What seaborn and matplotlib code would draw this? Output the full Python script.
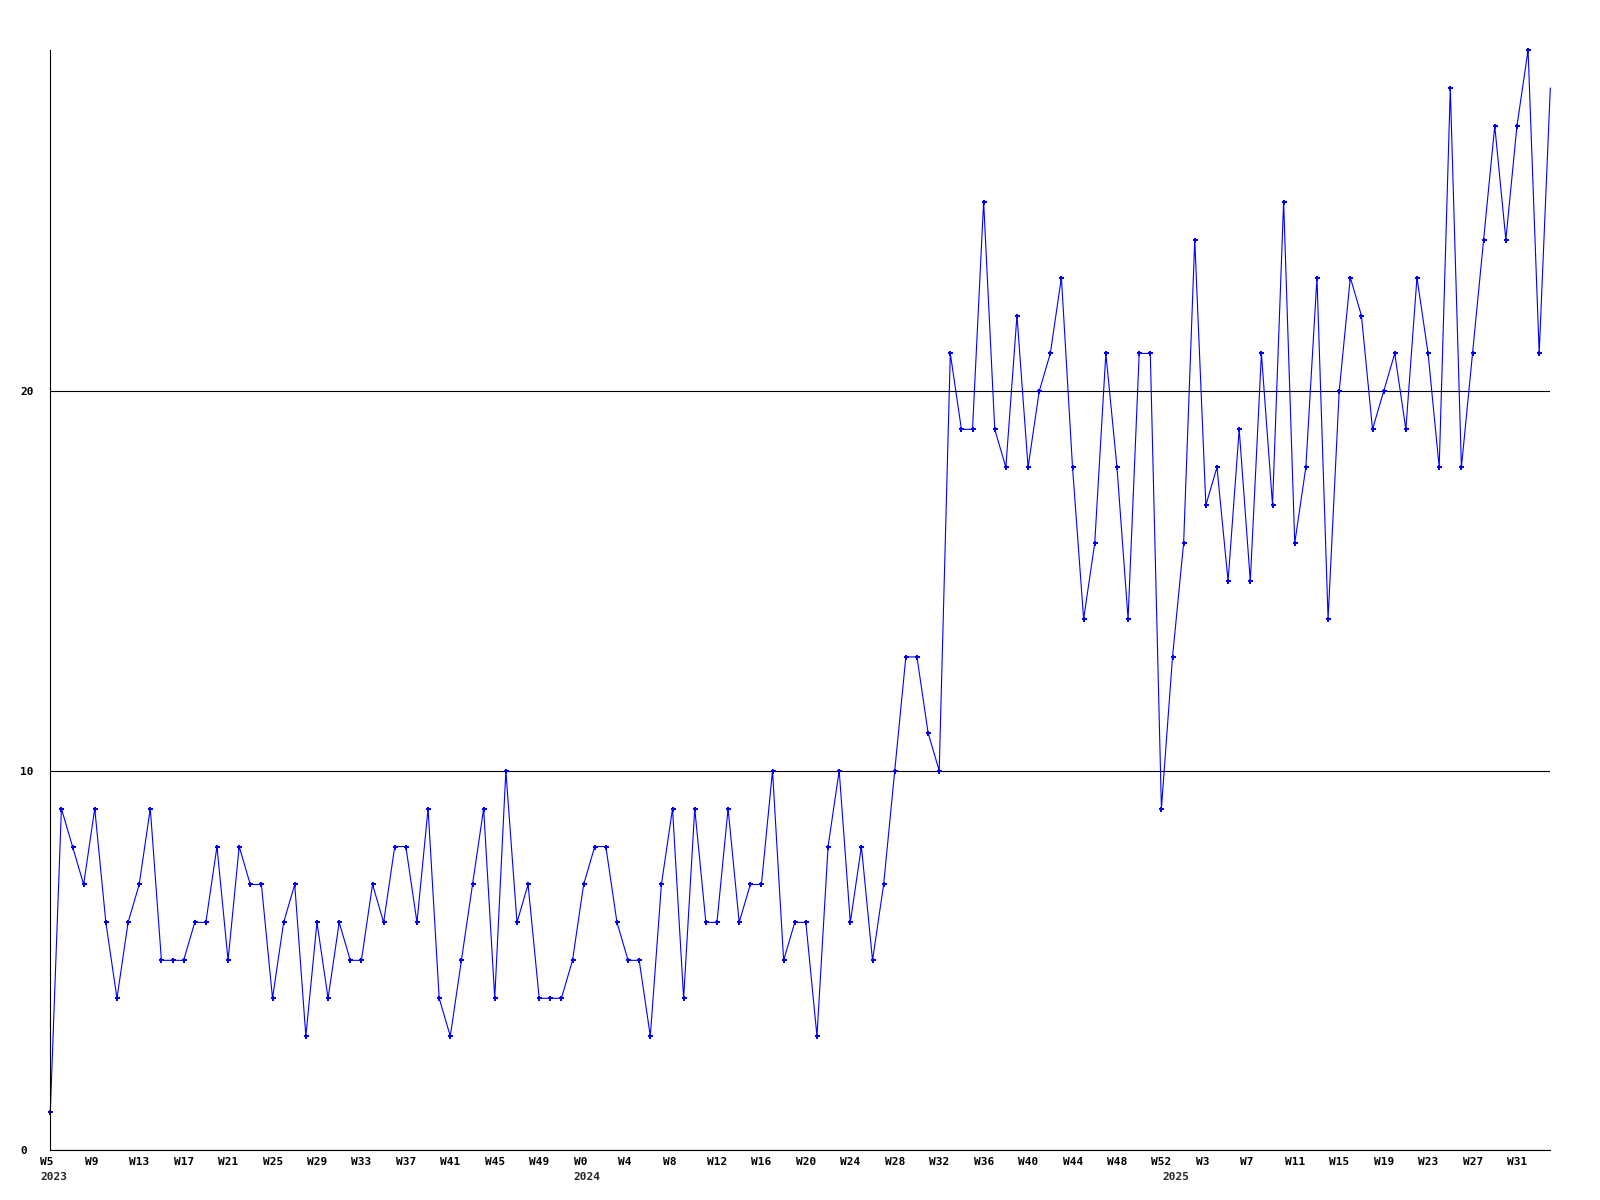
import matplotlib
matplotlib.use("Agg")
import matplotlib.pyplot as plt
import matplotlib.transforms as mtransforms
import pandas as pd
import seaborn as sns

# weekly counts, 2023 W5 .. 2025 W35
counts = [
    1, 9, 8, 7, 9, 6, 4, 6, 7, 9, 5, 5, 5, 6, 6, 8, 5, 8, 7, 7, 4, 6, 7, 3, 6, 4, 6, 5, 5, 7, 6, 8, 8, 6,
    9, 4, 3, 5, 7, 9, 4, 10, 6, 7, 4, 4, 4, 5, 7, 8, 8, 6, 5, 5, 3, 7, 9, 4, 9, 6, 6, 9, 6, 7, 7, 10, 5, 6, 6, 3,
    8, 10, 6, 8, 5, 7, 10, 13, 13, 11, 10,
    21, 19, 19, 25, 19, 18, 22, 18, 20, 21, 23, 18, 14, 16, 21, 18, 14, 21, 21,
    9, 13, 16, 24, 17, 18, 15, 19, 15, 21, 17, 25, 16,
    18, 23, 14, 20, 23, 22, 19, 20, 21, 19, 23, 21, 18, 28, 18, 21, 24, 27, 24, 27, 29, 21, 28,
]

# one label every 4 weeks
week_labels = [
    "W5", "W9", "W13", "W17", "W21", "W25", "W29", "W33", "W37", "W41", "W45", "W49",
    "W0", "W4", "W8", "W12", "W16", "W20", "W24", "W28", "W32", "W36", "W40", "W44", "W48", "W52",
    "W3", "W7", "W11", "W15", "W19", "W23", "W27", "W31",
]
years = ["2023", "2024", "2025"]
year_first_week = [0, 48, 101]

df = pd.DataFrame({"week": range(len(counts)), "count": counts})

sns.set_style("white")
plt.rcParams["font.family"] = ["DejaVu Sans Mono"]

fig = plt.figure(figsize=(16, 12), dpi=100)
ax = fig.add_axes([50.3 / 1600, 50 / 1200, 1500 / 1600, 1100 / 1200])

sns.lineplot(data=df, x="week", y="count", color="#0000ff", linewidth=0.8,
             marker="P", markersize=3.6, markeredgewidth=0,
             markevery=list(range(len(counts) - 1)), ax=ax)
for line in ax.lines:
    line.set_clip_on(False)

ax.set_xlim(0, len(counts) - 1)
ax.set_ylim(0, max(counts))
ax.set_xlabel("")
ax.set_ylabel("")

for side in ["top", "right"]:
    ax.spines[side].set_visible(False)
for side in ["left", "bottom"]:
    ax.spines[side].set_color("black")
    ax.spines[side].set_linewidth(0.8)

ax.set_yticks([0, 10, 20])
ax.yaxis.grid(True, color="black", linewidth=0.8)
ax.xaxis.grid(False)
ax.set_axisbelow(True)

ax.set_xticks(range(0, len(counts), 4))
ax.set_xticklabels(week_labels)
ax.tick_params(length=0, labelsize=8, colors="black")
ax.tick_params(axis="y", pad=21.6)
ax.tick_params(axis="x", pad=5)

shift = mtransforms.ScaledTranslation(-0.1, 0, fig.dpi_scale_trans)
for lab in ax.get_xticklabels():
    lab.set_ha("left")
    lab.set_fontweight("bold")
    lab.set_transform(lab.get_transform() + shift)
for lab in ax.get_yticklabels():
    lab.set_ha("left")
    lab.set_fontweight("bold")

year_trans = mtransforms.blended_transform_factory(ax.transData, ax.transAxes) + \
    mtransforms.ScaledTranslation(-0.1, -0.27, fig.dpi_scale_trans)
for wk, yr in zip(year_first_week, years):
    ax.text(wk, 0, yr, transform=year_trans, ha="left", va="center",
            fontsize=8, fontweight="bold")

fig.savefig("out.png", dpi=100)
